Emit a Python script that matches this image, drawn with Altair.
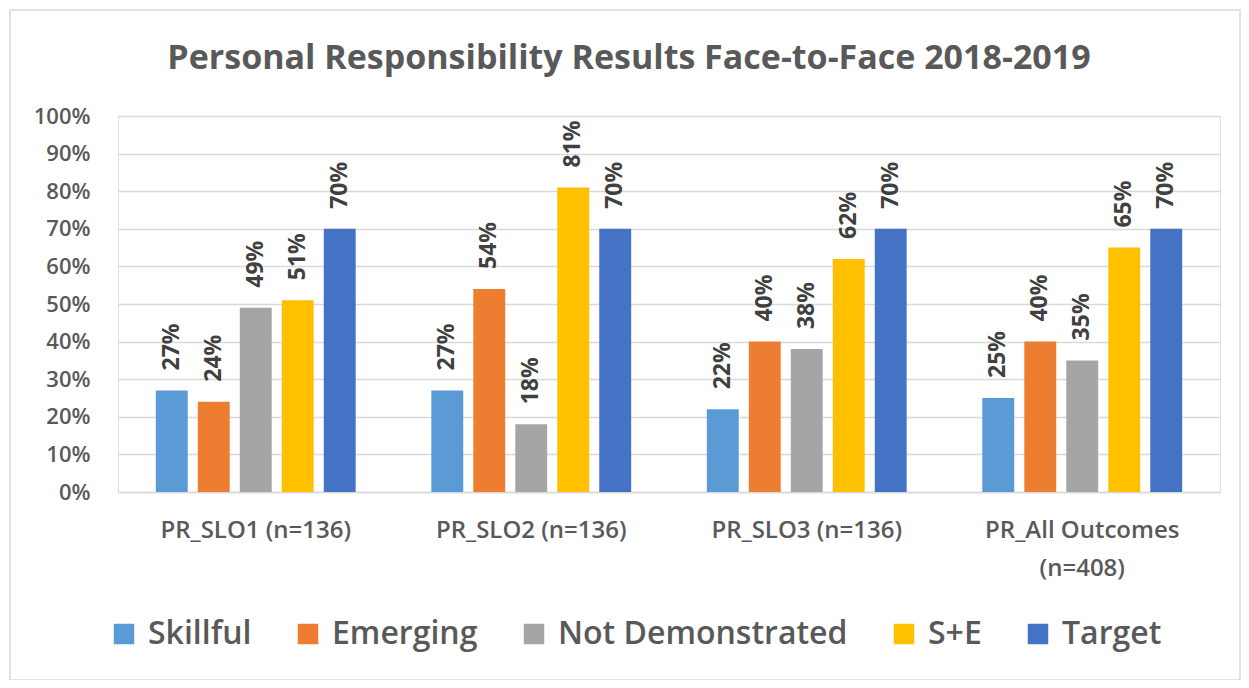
import altair as alt
import pandas as pd

categories = ["PR_SLO1 (n=136)", "PR_SLO2 (n=136)", "PR_SLO3 (n=136)", "PR_All Outcomes (n=408)"]
series = ["Skillful", "Emerging", "Not Demonstrated", "S+E", "Target"]
colors = ["#5B9BD5", "#ED7D31", "#A5A5A5", "#FFC000", "#4472C4"]
skillful = [0.27, 0.27, 0.22, 0.25]
emerging = [0.24, 0.54, 0.40, 0.40]
not_demonstrated = [0.49, 0.18, 0.38, 0.35]
s_plus_e = [0.51, 0.81, 0.62, 0.65]
target = [0.70, 0.70, 0.70, 0.70]

values_by_series = [skillful, emerging, not_demonstrated, s_plus_e, target]
rows = []
for s, vals in zip(series, values_by_series):
    for c, v in zip(categories, vals):
        rows.append({"category": c, "series": s, "value": v})
df = pd.DataFrame(rows)

FONT = "Open Sans"
TXT = "#595959"

x_enc = alt.X("category:N", sort=categories, title=None,
              scale=alt.Scale(paddingInner=0.238, paddingOuter=0.119),
              axis=alt.Axis(labelAngle=0, labelFontSize=24, labelColor=TXT, labelFont=FONT,
                            labelFontWeight=600, labelLimit=500,
                            labelPadding=26, ticks=False, domainColor="#d9d9d9", domainWidth=1.5,
                            labelLineHeight=38,
                            labelExpr="datum.value == 'PR_All Outcomes (n=408)' ? ['PR_All Outcomes', '(n=408)'] : datum.value"))
xo_enc = alt.XOffset("series:N", sort=series,
                     scale=alt.Scale(paddingInner=0.24, paddingOuter=0.12))
y_enc = alt.Y("value:Q", title=None,
              scale=alt.Scale(domain=[0, 1], nice=False),
              axis=alt.Axis(format="%", values=[i / 10 for i in range(11)], labelFontSize=22,
                            labelColor=TXT, labelFont=FONT, labelFontWeight=600,
                            labelPadding=28, ticks=False, domain=False,
                            gridColor="#d9d9d9", gridWidth=1.3))

base = alt.Chart(df)

bars = base.mark_bar().encode(
    x=x_enc, xOffset=xo_enc, y=y_enc,
    color=alt.Color("series:N", sort=series,
                    scale=alt.Scale(domain=series, range=colors),
                    legend=alt.Legend(title=None, orient="none", direction="horizontal",
                                      legendX=-10, legendY=502, symbolType="square",
                                      symbolSize=420, symbolStrokeWidth=0,
                                      labelFontSize=32, labelFont=FONT, labelColor=TXT,
                                      labelFontWeight=600, columnPadding=40, labelOffset=8,
                                      padding=0, labelLimit=500))
)

labels = base.mark_text(angle=270, align="left", baseline="middle", dx=20,
                        fontSize=23, fontWeight="bold", font=FONT, color="#404040").encode(
    x=x_enc, xOffset=xo_enc, y=y_enc,
    text=alt.Text("value:Q", format=".0%")
)

frame = alt.Chart(alt.Data(values=[{}])).mark_rect(fill=None, stroke="#d9d9d9", strokeWidth=1.5).encode(
    x=alt.value(-108), x2=alt.value(1122), y=alt.value(-106), y2=alt.value(564)
)

chart = alt.layer(frame, bars, labels).properties(
    width=1102, height=376,
    title=alt.TitleParams("Personal Responsibility Results Face-to-Face  2018-2019",
                          fontSize=34, font=FONT, fontWeight="bold", color=TXT,
                          anchor="middle", offset=-67, dx=-40),
    autosize=alt.AutoSizeParams(type="none"),
    padding={"left": 110, "top": 108, "right": 21, "bottom": 188},
).configure_view(stroke=None).configure(background="white")

chart.save("out.html", embed_options={"renderer": "svg", "actions": False})
